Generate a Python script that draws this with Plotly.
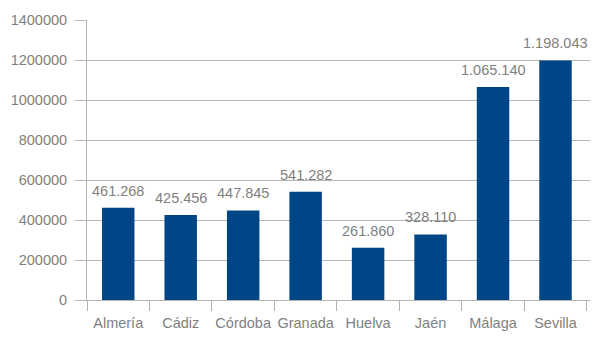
import plotly.graph_objects as go

provincias = ["Almería", "Cádiz", "Córdoba", "Granada", "Huelva", "Jaén", "Málaga", "Sevilla"]
poblacion = [461268, 425456, 447845, 541282, 261860, 328110, 1065140, 1198043]
y_ticks = [0, 200000, 400000, 600000, 800000, 1000000, 1200000, 1400000]

def fmt(v):
    return f"{v:,}".replace(",", ".")

FONT = "Liberation Sans, Arial, sans-serif"
GRAY = "#7f7f7f"
LINE = "#b3b3b3"
FS = 14.5

fig = go.Figure(go.Bar(
    x=provincias, y=poblacion,
    marker=dict(color="#004586", line=dict(width=0)),
    hoverinfo="skip",
))

for p, v in zip(provincias, poblacion):
    fig.add_annotation(x=p, y=v, text=fmt(v), showarrow=False,
                       yanchor="bottom", yshift=7,
                       font=dict(family=FONT, size=FS, color=GRAY))

# The page body offsets the figure by 8px, so it is sized to the visible area.
fig.update_layout(
    width=582, height=333,
    margin=dict(l=79, r=0, t=12, b=41, autoexpand=False),
    paper_bgcolor="white", plot_bgcolor="white",
    bargap=0.48, showlegend=False,
    font=dict(family=FONT, size=FS, color=GRAY),
)
fig.update_xaxes(
    showline=True, linecolor=LINE, linewidth=1,
    ticks="outside", tickson="boundaries", ticklen=10, tickcolor=LINE,
    ticklabelstandoff=10, showgrid=False, tickangle=0, automargin=False,
    tickfont=dict(family=FONT, size=FS, color=GRAY),
)
fig.update_yaxes(
    range=[0, 1400000], tickvals=y_ticks, tickformat="d",
    showgrid=True, gridcolor=LINE, gridwidth=1,
    showline=True, linecolor=LINE, linewidth=1, automargin=False,
    ticks="outside", ticklen=11, tickcolor=LINE, zeroline=False,
    ticklabelstandoff=5,
    tickfont=dict(family=FONT, size=FS, color=GRAY),
)

fig.write_html("out.html")
